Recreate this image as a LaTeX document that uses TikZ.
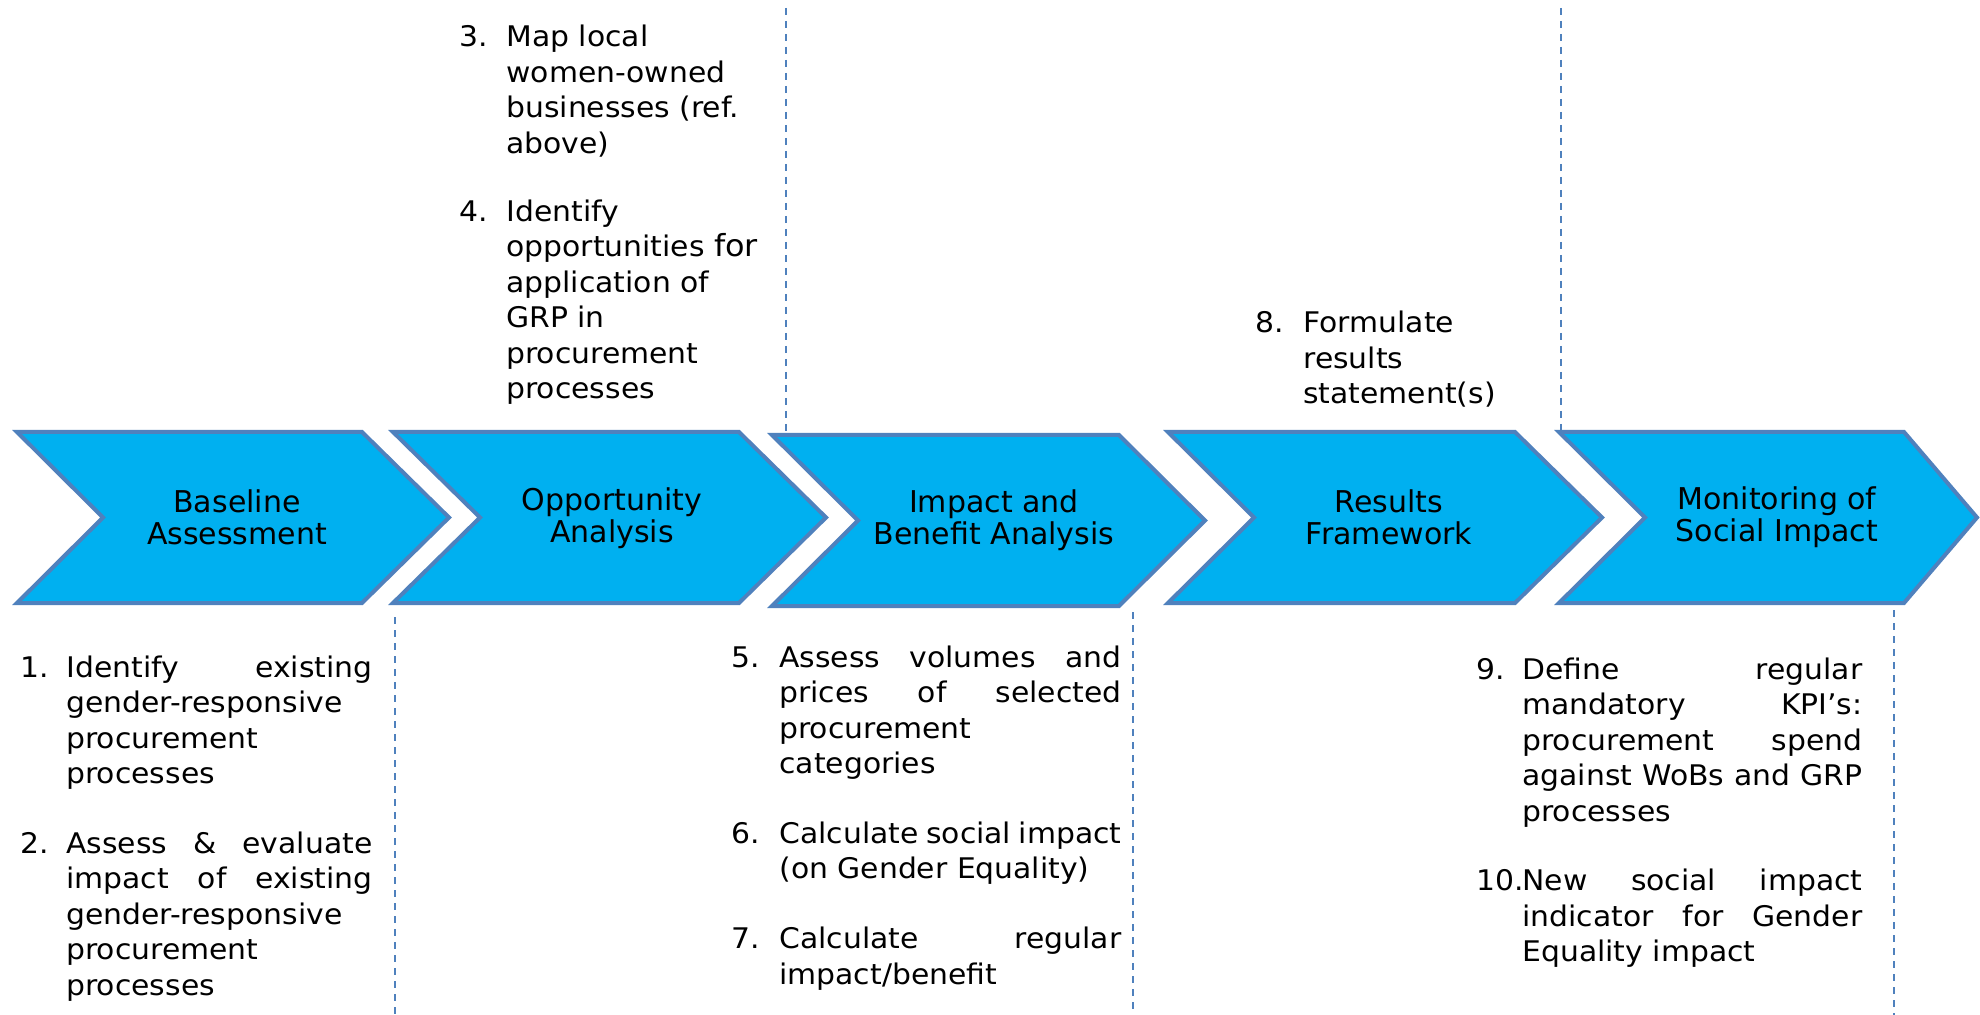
\documentclass[tikz,border=0pt]{standalone}
\usepackage{fontspec}
\setmainfont{DejaVu Sans}
\newfontfamily\itemfamily{DejaVu Sans}[FakeStretch=1.05]
\hbadness=10000 \hfuzz=20pt
\definecolor{chevfill}{HTML}{00B0F0}
\definecolor{chevline}{HTML}{4F81BD}
\definecolor{sepline}{HTML}{4F81BD}
\newlength\itmind
\newlength\itmcol
\newcommand{\itmfont}{\itemfamily\fontsize{14.2pt}{17.75pt}\selectfont}
\newcommand{\chevfont}{\fontsize{15pt}{16pt}\selectfont}
\newcommand{\itm}[2]{\par\noindent\makebox[\itmind][l]{#1}\parbox[t]{\itmcol}{#2}\par}
\newcommand{\jl}[1]{\makebox[\linewidth][s]{#1}\\}
\newcommand{\rl}[1]{#1\\}
\newcommand{\itmgap}{\vskip 20.25pt}
\newcommand{\chevpath}[7]{% name, left, top, bot, tr, tip, notch
  \path[chev] (#2,#3) coordinate (#1-nw) -- (#5,#3) -- (#6,{(#3+#4)/2}) coordinate (#1-tip) -- (#5,#4) -- (#2,#4) -- (#7,{(#3+#4)/2}) coordinate (#1-notch) -- cycle;}
\begin{document}
\begin{tikzpicture}[x=0.5pt,y=-0.5pt,
  chev/.style={fill=chevfill, draw=chevline, line width=2pt, line join=miter},
  chevlabel/.style={align=center, font=\chevfont, inner sep=0pt, text=black},
  itemblock/.style={anchor=base west, inner sep=0pt, font=\itmfont},
  sep/.style={draw=sepline, line width=1pt, dash pattern=on 3.5pt off 3pt}]

\useasboundingbox[fill=white] (0,0) rectangle (1980,1015);

% chevrons
\chevpath{c1}{17}{432}{603}{362}{449}{103}
\chevpath{c2}{393}{432}{603}{739}{826}{480}
\chevpath{c3}{772}{435}{606}{1119}{1205}{858}
\chevpath{c4}{1168}{432}{603}{1515}{1602}{1254}
\chevpath{c5}{1559}{432}{603}{1904}{1977}{1645}

\node[chevlabel] (l1) at (237,517) {Baseline\\Assessment};
\node[chevlabel] (l2) at (612,518) {Opportunity\\Analysis};
\node[chevlabel] (l3) at (994,520) {Impact and\\Benefit Analysis};
\node[chevlabel] (l4) at (1389,517) {Results\\Framework};
\node[chevlabel] (l5) at (1777,517) {Monitoring of\\Social Impact};

% dashed separators
\coordinate (t1a) at (786,8);   \coordinate (t1b) at (786,433);
\coordinate (t2a) at (1561,8);  \coordinate (t2b) at (1561,431);
\coordinate (b1a) at (395,617); \coordinate (b1b) at (395,1015);
\coordinate (b2a) at (1133,612);\coordinate (b2b) at (1133,1015);
\coordinate (b3a) at (1894,610);\coordinate (b3b) at (1894,1015);
\draw[sep] (t1a) -- (t1b);
\draw[sep] (t2a) -- (t2b);
\draw[sep] (b1a) -- (b1b);
\draw[sep] (b2a) -- (b2b);
\draw[sep] (b3a) -- (b3b);

% text blocks
\node[itemblock] (s1) at (20,677) {\parbox[t]{180pt}{\setlength\itmind{23pt}\setlength\itmcol{153pt}%
\itm{1.}{\jl{Identify existing}\rl{gender-responsive}\rl{procurement}processes}\itmgap
\itm{2.}{\jl{Assess \& evaluate}\jl{impact of existing}\rl{gender-responsive}\rl{procurement}processes}}};

\node[itemblock] (s3) at (459,47) {\parbox[t]{200pt}{\setlength\itmind{23.5pt}\setlength\itmcol{170pt}%
\itm{3.}{\rl{Map local}\rl{women-owned}\rl{businesses (ref.}above)}\itmgap
\itm{4.}{\rl{Identify}\rl{opportunities {\fontsize{15.2pt}{17.75pt}\selectfont for}}\rl{application of}\rl{GRP in}\rl{procurement}processes}}};

\node[itemblock] (s5) at (731,667) {\parbox[t]{200pt}{\setlength\itmind{24pt}\setlength\itmcol{171pt}%
\itm{5.}{\jl{Assess volumes and}\jl{prices of selected}\rl{procurement}categories}\itmgap
\itm{6.}{\jl{Calculate social impact}(on Gender Equality)}\itmgap
\itm{7.}{\jl{Calculate regular}impact/benefit}}};

\node[itemblock] (s8) at (1255,333) {\parbox[t]{130pt}{\setlength\itmind{24pt}\setlength\itmcol{100pt}%
\itm{8.}{\rl{Formulate}\rl{results}statement(s)}}};

\node[itemblock] (s9) at (1476,679) {\parbox[t]{200pt}{\setlength\itmind{23pt}\setlength\itmcol{170pt}%
\itm{9.}{\jl{Define regular}\jl{mandatory KPI’s:}\jl{procurement spend}\jl{against WoBs and GRP}processes}\itmgap
\itm{10.}{\jl{New social impact}\jl{indicator for Gender}Equality impact}}};
\end{tikzpicture}
\end{document}
